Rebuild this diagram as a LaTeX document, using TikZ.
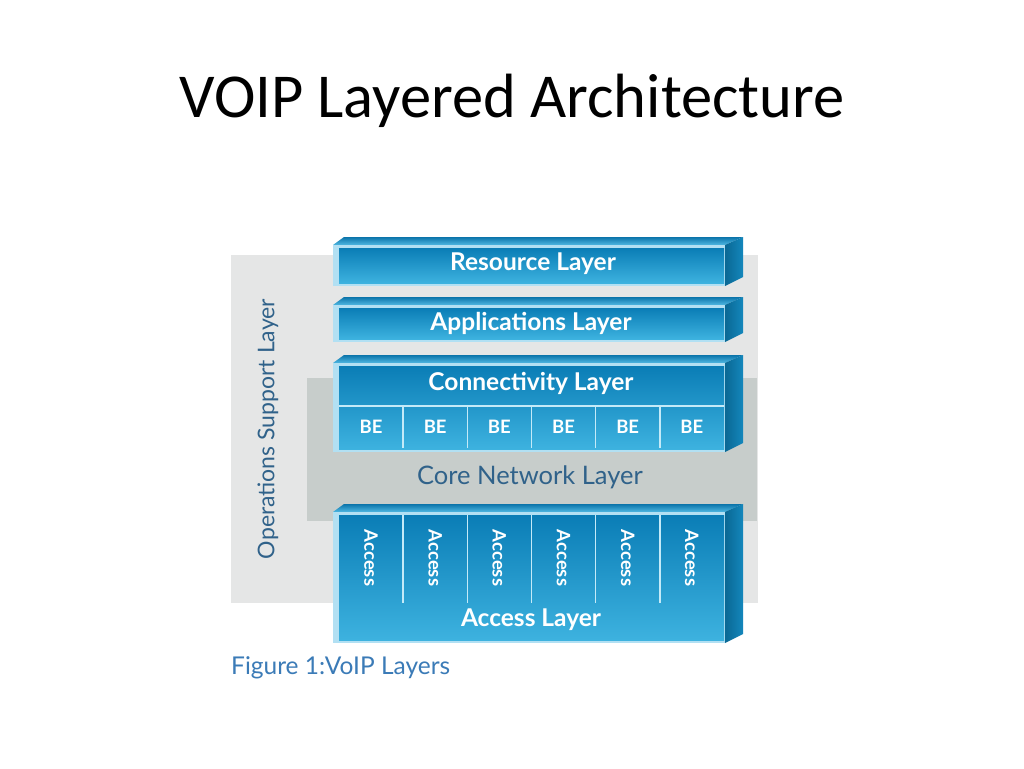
\documentclass[tikz,border=0pt]{standalone}
\usepackage{fontspec}
\setmainfont{Lato}
\newfontfamily\titlefont{Carlito}
\definecolor{oslgray}{HTML}{E5E6E6}
\definecolor{coregray}{HTML}{C7CDCB}
\definecolor{rimblue}{HTML}{B2E0F3}
\definecolor{facetop}{HTML}{0A7DB6}
\definecolor{facebot}{HTML}{3DB2DF}
\definecolor{bevdark}{HTML}{0B74AA}
\definecolor{bevlight}{HTML}{4FB8E2}
\definecolor{sidedark}{HTML}{0A6894}
\definecolor{sidelight}{HTML}{1487BC}
\definecolor{divline}{HTML}{C4EAF8}
\definecolor{slateblue}{HTML}{30628A}
\definecolor{capblue}{HTML}{3B7BB7}
\tikzset{
  titletext/.style={font=\titlefont\fontsize{62.5}{70}\selectfont, text=black, inner sep=0pt},
  whitebig/.style={font=\bfseries\fontsize{24.5}{27}\selectfont, text=white, inner sep=0pt},
  whitesmall/.style={font=\bfseries\fontsize{18.5}{20}\selectfont, text=white, inner sep=0pt},
  darklabel/.style={font=\fontsize{25.5}{28}\selectfont, text=slateblue, inner sep=0pt},
  osltext/.style={font=\fontsize{23}{26}\selectfont, text=slateblue, inner sep=0pt},
  captext/.style={font=\fontsize{24.5}{27}\selectfont, text=capblue, inner sep=0pt},
  divider/.style={draw=divline, line width=1.4pt},
}
% #1 top of bevel, #2 bottom of box
\newcommand\layerbox[2]{%
  \shade[top color=bevdark, bottom color=bevlight]
    (333,{#1+8}) -- (344,#1) -- (743,#1) -- (725,{#1+8}) -- cycle;
  \shade[left color=sidedark, right color=sidelight]
    (725,{#1+8}) -- (743,#1) -- (743,{#2-9}) -- (725,#2) -- cycle;
  \fill[rimblue] (333,{#1+8}) rectangle (725,#2);
  \shade[top color=facetop, bottom color=facebot]
    (339,{#1+11}) rectangle (724,{#2-3});
}
\begin{document}
\begin{tikzpicture}[x=1pt,y=-1pt]
\useasboundingbox[fill=white] (0,0) rectangle (1024,768);
\node[titletext, anchor=base] (title) at (512,117) {VOIP Layered Architecture};
% background layers
\fill[oslgray] (231,255) rectangle (758,603);
\fill[coregray] (307,378) rectangle (757,521);
% blue layers
\layerbox{237}{286}
\layerbox{297}{342}
\layerbox{355}{452}
\layerbox{504}{643}
% BE row
\draw[divider] (339,406) -- (724,406);
\foreach \i in {1,...,5} {
  \draw[divider] ({339+\i*64.17},406) -- ({339+\i*64.17},448);
  \draw[divider] ({339+\i*64.17},515) -- ({339+\i*64.17},603);
}
\foreach \i in {0,...,5} {
  \node[whitesmall] (be\i) at ({371+\i*64.17},427) {BE};
  \node[whitesmall, rotate=-90] (acc\i) at ({371+\i*64.17},558) {Access};
}
% labels
\node[whitebig] (res) at (533,264) {Resource Layer};
\node[whitebig] (app) at (531,323) {Applications Layer};
\node[whitebig] (con) at (531,383) {Connectivity Layer};
\node[darklabel] (core) at (530,477) {Core Network Layer};
\node[whitebig] (acl) at (531,620) {Access Layer};
\node[osltext, rotate=90] (osl) at (268,429) {Operations Support Layer};
\node[captext, anchor=west] (cap) at (231,668) {Figure 1:VoIP Layers};
\end{tikzpicture}
\end{document}
